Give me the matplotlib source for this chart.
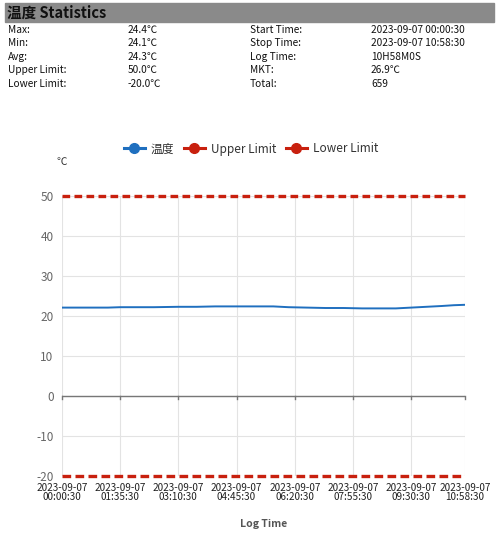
import matplotlib.pyplot as plt
from matplotlib.patches import Rectangle
from matplotlib.lines import Line2D

plt.rcParams['font.family'] = ['Noto Sans CJK SC', 'DejaVu Sans']
plt.rcParams['axes.unicode_minus'] = False

# minutes since 2023-09-07 00:00:30
minutes = [0, 25, 50, 75, 95, 120, 150, 190, 220, 250, 285, 320, 345, 370,
           400, 430, 460, 490, 520, 545, 570, 595, 620, 640, 658]
temp = [22.1, 22.1, 22.1, 22.1, 22.2, 22.2, 22.2, 22.3, 22.3, 22.4, 22.4, 22.4,
        22.4, 22.2, 22.1, 22.0, 22.0, 21.9, 21.9, 21.9, 22.1, 22.3, 22.5, 22.7, 22.8]
upper_limit = 50.0
lower_limit = -20.0

tick_minutes = [0, 95, 190, 285, 380, 475, 570, 658]
tick_labels = ['2023-09-07\n00:00:30', '2023-09-07\n01:35:30', '2023-09-07\n03:10:30',
               '2023-09-07\n04:45:30', '2023-09-07\n06:20:30', '2023-09-07\n07:55:30',
               '2023-09-07\n09:30:30', '2023-09-07\n10:58:30']

stats_left = [('Max:', '24.4℃'), ('Min:', '24.1℃'), ('Avg:', '24.3℃'),
              ('Upper Limit:', '50.0℃'), ('Lower Limit:', '-20.0℃')]
stats_right = [('Start Time:', '2023-09-07 00:00:30'), ('Stop Time:', '2023-09-07 10:58:30'),
               ('Log Time:', '10H58M0S'), ('MKT:', '26.9℃'), ('Total:', '659')]

W, H = 499, 533
fig = plt.figure(figsize=(W / 100, H / 100), dpi=100)

# header bar
fig.patches.append(Rectangle((5 / W, 1 - 22 / H), 489 / W, 19 / H,
                             transform=fig.transFigure, color='#8a8a8a', zorder=0))
fig.text(7 / W, 1 - 13 / H, '温度 Statistics', fontsize=10.5, fontweight='bold',
         va='center', ha='left', color='#111111')

rows_y = [30, 43, 57, 70, 84]
for (k, v), y in zip(stats_left, rows_y):
    fig.text(8 / W, 1 - y / H, k, fontsize=7.3, va='center', color='#111111')
    fig.text(128 / W, 1 - y / H, v, fontsize=7.3, va='center', color='#111111')
for (k, v), y in zip(stats_right, rows_y):
    fig.text(250 / W, 1 - y / H, k, fontsize=7.3, va='center', color='#111111')
    fig.text(371 / W, 1 - y / H, v, fontsize=7.3, va='center', color='#111111')

ax = fig.add_axes([62 / W, 1 - 476 / H, 403 / W, 280 / H])

blue = '#1f6fbf'
red = '#c8200e'
ax.plot(minutes, temp, color=blue, lw=1.4, label='温度', zorder=3)
ax.plot([0, tick_minutes[-1]], [upper_limit, upper_limit], color=red, lw=2.4,
        ls=(0, (2.3, 1.3)), label='Upper Limit', zorder=3, clip_on=False)
ax.plot([0, tick_minutes[-1]], [lower_limit, lower_limit], color=red, lw=2.4,
        ls=(0, (2.6, 1.3)), label='Lower Limit', zorder=3, clip_on=False)

ax.set_xlim(0, tick_minutes[-1])
ax.set_ylim(-20, 50)
ax.set_yticks(range(-20, 51, 10))
ax.set_xticks(tick_minutes)
ax.set_xticklabels(tick_labels, fontsize=7.2, color='#222222', linespacing=0.9)
ax.tick_params(axis='y', length=0, labelsize=8.5, labelcolor='#666666', pad=6)
ax.tick_params(axis='x', length=0, pad=5)
ax.grid(True, color='#e3e3e3', lw=0.8)
for s in ax.spines.values():
    s.set_visible(False)

# zero axis line with ticks
ax.axhline(0, color='#777777', lw=1, zorder=2)
for t in tick_minutes:
    ax.plot([t, t], [0, -0.8], color='#777777', lw=1, zorder=2, clip_on=False)

ax.text(0, 58.5, '℃', fontsize=7.5, color='#333333', ha='center', va='center')
ax.set_xlabel('Log Time', fontsize=7.5, fontweight='bold', color='#555555', labelpad=12)

handles = [Line2D([], [], color=blue, lw=2.2, marker='o', ms=7, mfc=blue, mec=blue),
           Line2D([], [], color=red, lw=2.2, marker='o', ms=7, mfc=red, mec=red),
           Line2D([], [], color=red, lw=2.2, marker='o', ms=7, mfc=red, mec=red)]
fig.legend(handles, ['温度', 'Upper Limit', 'Lower Limit'], loc='center',
           bbox_to_anchor=(251 / W, 1 - 149 / H), ncol=3, frameon=False,
           fontsize=8.5, handlelength=1.8, columnspacing=0.8, handletextpad=0.5,
           labelcolor='#333333')

fig.savefig('out.png', dpi=100)
